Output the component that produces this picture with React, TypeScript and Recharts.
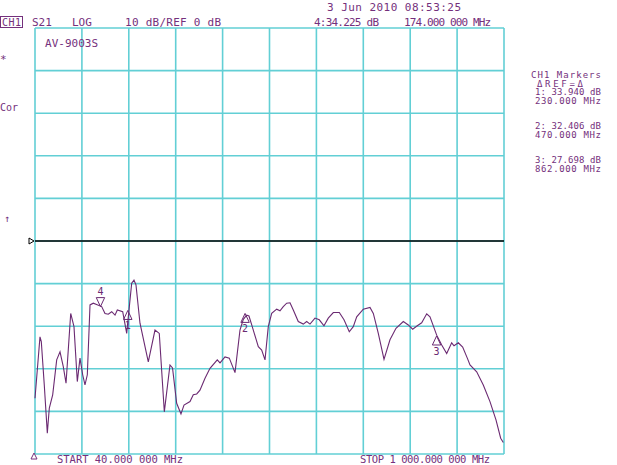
import {
  LineChart,
  Line,
  XAxis,
  YAxis,
  CartesianGrid,
  ReferenceLine,
  ReferenceDot,
} from "recharts";

// S21 trace, frequency in MHz and level in dB (10 dB/div, ref 0 dB at centre)
const freqMHz = [
  40, 50.2, 52.9, 59, 65.2, 69.3, 76.2, 84.4, 91.2, 97.9, 103.5, 113.1, 119.8,
  126.6, 132.1, 137.6, 142.3, 147.1, 152.6, 159.3, 176.5, 183.3, 190, 197,
  203.8, 208.5, 219.5, 227.7, 231, 237.9, 242.6, 246.7, 254.9, 271.9, 285.6,
  294.4, 304.7, 316.3, 321.5, 330, 338.8, 345, 357.3, 364, 371, 377.7, 388,
  398.2, 413.1, 418.7, 428.9, 437.7, 449.4, 459.6, 466.4, 473.3, 478, 483.6,
  497.1, 504, 510.8, 517.5, 524.5, 534.7, 541.5, 548.2, 555.2, 562, 568.7,
  578.9, 589.2, 596.1, 602.9, 613.1, 621.9, 631.5, 640.3, 650.6, 662.9, 672.5,
  683.3, 691.5, 698.5, 712, 725.7, 732.5, 742.7, 754.4, 766.6, 778.9, 793.9,
  804.1, 813.1, 822.5, 831.5, 841.8, 848.5, 862.2, 872.5, 882.7, 892.9, 897.7,
  906.5, 915.4, 924.9, 930.4, 944.1, 957.6, 971.3, 983.6, 993.2, 998.6,
];

const s21dB = [
  -36.9, -22.5, -23.6, -33.8, -45.1, -39.2, -36.1, -27.9, -26.0, -29.5, -33.4,
  -17.0, -20.1, -33.0, -27.5, -31.4, -33.8, -31.4, -15.0, -14.6, -15.4, -17.0,
  -17.2, -16.6, -17.4, -16.2, -16.6, -21.7, -17.8, -9.9, -9.2, -10.3, -19.3,
  -28.4, -20.9, -21.7, -40.1, -29.1, -29.8, -38.1, -40.6, -38.5, -37.7, -36.1,
  -35.9, -35.0, -32.2, -29.9, -27.9, -28.6, -27.2, -27.5, -30.9, -20.9, -18.4,
  -17.4, -17.6, -19.7, -24.8, -25.6, -27.9, -20.1, -17.0, -16.0, -16.4, -15.4,
  -14.6, -14.5, -16.2, -18.9, -19.5, -18.9, -19.5, -18.1, -18.5, -19.9, -18.1,
  -16.8, -16.8, -18.5, -21.3, -20.1, -17.8, -16.0, -15.6, -17.0, -21.7, -27.8,
  -23.2, -20.5, -18.9, -19.7, -20.7, -19.9, -19.2, -17.1, -17.8, -22.1, -24.4,
  -26.4, -23.9, -24.6, -23.9, -24.9, -27.5, -29.1, -30.7, -33.8, -37.7, -42.0,
  -46.3, -47.3,
];

const xTicks = [40, 136, 232, 328, 424, 520, 616, 712, 808, 904, 1000];
const yTicks = [-50, -40, -30, -20, -10, 0, 10, 20, 30, 40, 50];

// markers: number, frequency, level on trace, pointing direction
const markerNums = ["1", "2", "3", "4"];
const markerFreq = [230, 470, 862, 174];
const markerDb = [-16.3, -17.0, -22.3, -15.4];
const markerDown = [false, false, false, true];

const markerLines = [
  "CH1 Markers",
  "\u0394REF=\u0394",
  "1: 33.940 dB",
  "230.000 MHz",
  "2: 32.406 dB",
  "470.000 MHz",
  "3: 27.698 dB",
  "862.000 MHz",
];

const data = freqMHz.map((f, i) => ({ f, db: s21dB[i] }));

const GRID = "#62cfd5";
const TRACE = "#6b2a72";
const INK = "#74307c";
const MONO = "'DejaVu Sans Mono', 'Liberation Mono', monospace";

const MarkerShape = (props: any) => {
  const { cx, cy, num, down } = props;
  if (cx == null || cy == null) return null;
  const h = 9;
  const w = 4.2;
  const pts = down
    ? `${cx},${cy} ${cx - w},${cy - h} ${cx + w},${cy - h}`
    : `${cx},${cy} ${cx - w},${cy + h} ${cx + w},${cy + h}`;
  return (
    <g>
      <polygon points={pts} fill="none" stroke={TRACE} strokeWidth={1} />
      <text
        x={cx}
        y={down ? cy - h - 3 : cy + h + 10}
        textAnchor="middle"
        fontFamily={MONO}
        fontSize={10}
        fill={TRACE}
      >
        {num}
      </text>
    </g>
  );
};

const markerY = [78, 86.5, 95, 103.5, 129, 137.5, 163, 171.5];
const markerX = [531, 537, 535, 535, 535, 535, 535, 535];
const markerLen = [70, 46, 66, 66, 66, 66, 66, 66];

export default function App() {
  return (
    <div
      style={{
        position: "absolute",
        left: 0,
        top: 0,
        width: 617,
        height: 465,
        background: "#fff",
        overflow: "hidden",
      }}
    >
      <LineChart
        width={617}
        height={465}
        data={data}
        margin={{ top: 28, right: 113, bottom: 11, left: 35 }}
      >
        <CartesianGrid stroke={GRID} strokeWidth={1.6} />
        <XAxis
          type="number"
          dataKey="f"
          domain={[40, 1000]}
          ticks={xTicks}
          hide
        />
        <YAxis type="number" domain={[-50, 50]} ticks={yTicks} hide />
        <ReferenceLine y={0} stroke="#000" strokeWidth={1.4} />
        <Line
          type="linear"
          dataKey="db"
          stroke={TRACE}
          strokeWidth={1.1}
          dot={false}
          isAnimationActive={false}
        />
        {markerFreq.map((f, i) => (
          <ReferenceDot
            key={markerNums[i]}
            x={f}
            y={markerDb[i]}
            r={0}
            shape={(p: any) => (
              <MarkerShape {...p} num={markerNums[i]} down={markerDown[i]} />
            )}
          />
        ))}
      </LineChart>
      <svg
        width={617}
        height={465}
        style={{ position: "absolute", left: 0, top: 0, pointerEvents: "none" }}
        fontFamily={MONO}
        fill={INK}
      >
        <text x={327} y={11} fontSize={11} textLength={134}>
          3 Jun 2010  08:53:25
        </text>
        <rect x={0.5} y={16.5} width={22} height={11} fill="none" stroke={INK} strokeWidth={1} />
        <text x={2} y={26} fontSize={10} textLength={19}>CH1</text>
        <text x={32} y={26} fontSize={11}>S21</text>
        <text x={72} y={26} fontSize={11}>LOG</text>
        <text x={125} y={26} fontSize={11} textLength={96}>10 dB/REF 0 dB</text>
        <text x={314} y={26} fontSize={11} textLength={65}>4:34.225 dB</text>
        <text x={404} y={26} fontSize={11} textLength={87}>174.000 000 MHz</text>
        <text x={45} y={47} fontSize={11} textLength={53}>AV-9003S</text>
        <text x={0} y={63} fontSize={11}>*</text>
        <text x={0} y={111} fontSize={10}>Cor</text>
        <text x={4} y={222} fontSize={10}>{"\u2191"}</text>
        {markerLines.map((t, i) => (
          <text
            key={t}
            x={markerX[i]}
            y={markerY[i]}
            fontSize={9}
            textLength={markerLen[i]}
          >
            {t}
          </text>
        ))}
        <text x={57} y={463} fontSize={10.5} textLength={126}>
          START  40.000 000 MHz
        </text>
        <text x={360} y={463} fontSize={10.5} textLength={130}>
          STOP 1 000.000 000 MHz
        </text>
        <polygon points="29,238 29,244 34,241" fill="#fff" stroke="#000" strokeWidth={1} />
        <polygon points="34,453 31,459 37,459" fill="none" stroke={INK} strokeWidth={1} />
      </svg>
    </div>
  );
}
